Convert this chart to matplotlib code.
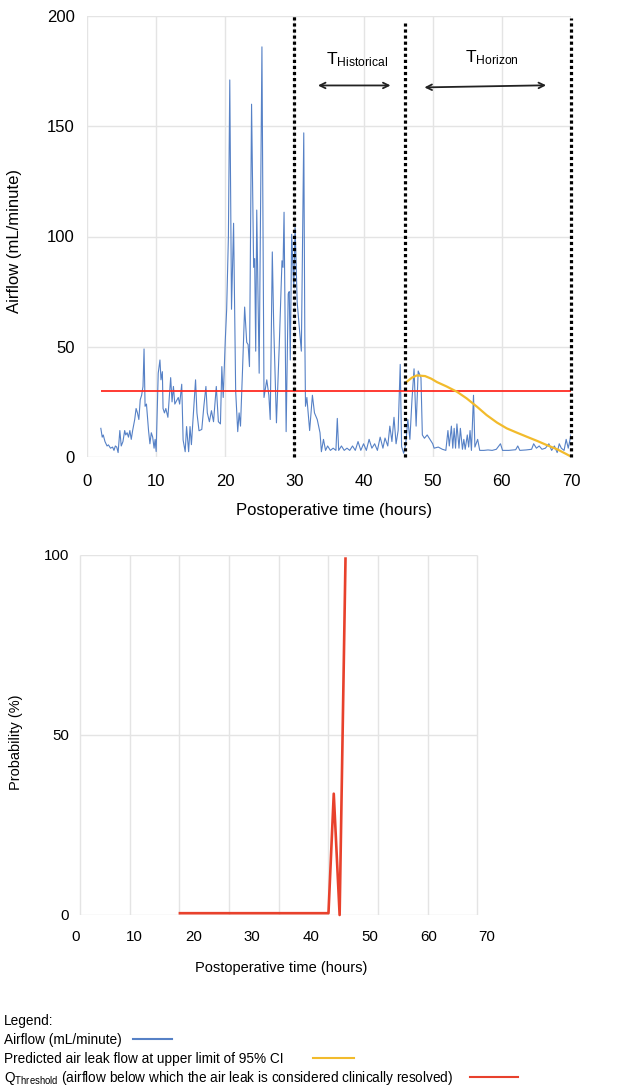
import numpy as np
import matplotlib
matplotlib.use("Agg")
import matplotlib.pyplot as plt
from matplotlib.lines import Line2D

plt.rcParams['font.family'] = ['Liberation Sans', 'DejaVu Sans']
plt.rcParams['mathtext.default'] = 'regular'

# ---- top chart: airflow (mL/minute) vs postoperative time (hours)
airflow_t = [2.0, 2.2, 2.35, 2.6, 2.9, 3.1, 3.4, 3.7, 3.9, 4.1, 4.3, 4.5, 4.75, 4.95, 5.2, 5.45, 5.6, 5.8,
             6.0, 6.2, 6.4, 6.6, 6.9, 7.1, 7.3, 7.5, 7.7, 7.9, 8.1, 8.25, 8.4, 8.6, 8.9, 9.1, 9.3, 9.5,
             9.7, 9.85, 10.0, 10.3, 10.55, 10.7, 10.9, 11.0, 11.2, 11.4, 11.7, 12.1, 12.3, 12.5, 12.7,
             13.2, 13.4, 13.7, 13.9, 14.2, 14.4, 14.7, 14.9, 15.1, 15.4, 15.7, 15.9, 16.2, 16.6, 16.9,
             17.2, 17.4, 17.7, 18.0, 18.3, 18.7, 19.0, 19.3, 19.5, 19.7, 20.0, 20.2, 20.45, 20.65, 20.9,
             21.2, 21.5, 21.8, 22.0, 22.2, 22.5, 22.8, 23.1, 23.3, 23.5, 23.8, 24.1, 24.25, 24.4, 24.55,
             24.9, 25.3, 25.6, 26.0, 26.3, 26.5, 26.8, 27.0, 27.4, 27.8, 28.2, 28.35, 28.5, 28.8, 29.1,
             29.25, 29.4, 29.6, 29.9, 30.1, 30.4, 30.8, 31.0, 31.35, 31.5, 31.6, 31.8, 32.2, 32.6, 32.9,
             33.3, 33.7, 33.9, 34.2, 34.5, 34.8, 35.2, 35.6, 36.0, 36.2, 36.4, 36.8, 37.2, 37.6, 38.0,
             38.4, 38.8, 39.2, 39.6, 40.0, 40.4, 40.8, 41.2, 41.6, 42.0, 42.4, 42.8, 43.1, 43.5, 43.8,
             44.1, 44.4, 44.7, 45.0, 45.3, 45.5, 45.8, 46.1, 46.4, 46.7, 47.0, 47.3, 47.6, 47.9, 48.3,
             48.5, 48.8, 49.2, 49.6, 50.0, 50.2, 50.8, 51.4, 51.9, 52.2, 52.4, 52.7, 52.9, 53.1, 53.3,
             53.5, 53.8, 54.0, 54.3, 54.5, 54.7, 55.0, 55.2, 55.4, 55.6, 55.9, 56.1, 56.5, 56.8, 57.4,
             58.0, 58.6, 59.2, 59.8, 60.1, 61.0, 62.0, 62.3, 62.6, 63.5, 64.3, 64.6, 65.0, 65.4, 65.8,
             66.3, 66.8, 67.2, 67.6, 68.0, 68.3, 68.6, 69.0, 69.3, 69.6, 70.0]
airflow_v = [13, 9, 10, 7, 5, 5.5, 4, 4.5, 3, 5, 4.5, 2, 12, 5, 7, 12, 10, 11,
             9, 12, 8, 12, 17, 22, 20, 17, 26, 28, 32, 49, 23, 24, 12, 6, 11, 9,
             4, 8, 2.5, 38, 44, 35, 38.7, 22, 20, 22, 18, 36, 25, 32, 24,
             27, 24, 33, 7.7, 2.4, 13.8, 2.4, 13.8, 5.6, 20, 35, 20, 11.9, 12.5, 23,
             32, 20, 16, 21, 16, 32, 16, 15, 41, 27, 53, 67, 100, 171, 67,
             106, 30, 11.5, 20, 14, 40, 68, 52, 51, 41, 160, 86, 90, 48, 112,
             38, 186, 27, 35, 28, 17, 93, 60, 15.5, 50, 89, 86, 111, 11.5, 74,
             75, 44, 101, 77, 104, 70, 55, 48, 147, 56, 23, 27, 12, 28, 20,
             17, 11, 2.4, 8, 3, 5, 3, 4, 3, 17.5, 3, 5, 3, 4, 3,
             5, 3, 7, 3, 6, 3, 8, 4, 6, 3, 9, 4, 8.6, 5, 14,
             7, 18, 6, 12, 42, 4.7, 1.7, 6, 17, 8, 26, 40, 14, 39, 36,
             10, 8.5, 10, 8, 6, 4, 4.5, 3.5, 3, 12, 5, 14, 4, 13, 4,
             15, 4, 13, 3.5, 8, 3.5, 10, 4.5, 12, 3, 28, 4.5, 8, 3, 3,
             3.2, 3, 3.5, 6, 3, 3, 3.3, 5, 3, 3.2, 3.5, 6, 4, 5, 3.5,
             4, 6, 3, 5, 2, 6, 4, 3, 8, 4, 10]

# predicted air leak flow at upper limit of 95% CI
pred_t = [46.2, 47.0, 47.7, 48.9, 49.8, 50.6, 52.0, 53.5, 54.9, 56.4, 57.8, 59.3, 60.7, 62.2,
          63.6, 65.1, 66.5, 68.0, 69.4, 70.0]
pred_v = [34, 36, 37, 36.7, 35.5, 34, 32, 29.6, 26.6, 22.8, 19, 15.6, 13, 11,
          9.2, 7.3, 5.4, 3.5, 1.2, 0.2]

q_threshold = 30
threshold_start = 2
windows = [30, 46, 70]
window_tops = [200, 197, 199]

# ---- bottom chart: probability (%)
prob_t = [17.7, 43.0, 43.9, 44.9, 45.9]
prob_v = [0.5, 0.5, 33.7, 0, 99]

W, H = 624, 1087
fig = plt.figure(figsize=(W / 100, H / 100), dpi=100)

def box(l, t, r, b):
    return [l / W, 1 - b / H, (r - l) / W, (b - t) / H]

grid_c = '#e4e4e4'
blue = '#5681c6'
yellow = '#f2bb2c'
red = '#ff2b22'

# top chart
ax = fig.add_axes(box(87, 16, 571, 457))
ax.set_xlim(0, 70)
ax.set_ylim(0, 200)
for s in ax.spines.values():
    s.set_visible(False)
ax.set_xticks(range(0, 71, 10))
ax.set_yticks(range(0, 201, 50))
ax.grid(True, color=grid_c, lw=1)
ax.set_axisbelow(True)
ax.tick_params(length=0, labelsize=12)
ax.tick_params(axis='x', pad=12)
ax.tick_params(axis='y', pad=9)
ax.plot(airflow_t, airflow_v, color=blue, lw=0.8, zorder=3)
ax.hlines(q_threshold, threshold_start, 70, color=red, lw=1.3, zorder=4)
ax.plot(pred_t, pred_v, color=yellow, lw=1.6, zorder=4)
for x, top in zip(windows, window_tops):
    ax.vlines(x, 0, top, color='black', lw=2.3, linestyles=(0, (1, 0.9)), zorder=5,
              clip_on=False)
ax.set_xlabel('Postoperative time (hours)', fontsize=12)
ax.xaxis.set_label_coords(0.51, -0.105)
ax.set_ylabel('Airflow (mL/minute)', fontsize=12)
ax.yaxis.set_label_coords(-0.134, 0.49)

ax.text(39.1, 180, r'T$_{Historical}$', fontsize=12.5, ha='center', va='center')
ax.text(58.6, 181, r'T$_{Horizon}$', fontsize=12.5, ha='center', va='center')
ax.annotate('', xy=(44.3, 168.5), xytext=(33, 168.5),
            arrowprops=dict(arrowstyle='<->', lw=1.3, color='#222222'))
ax.annotate('', xy=(66.8, 168.6), xytext=(48.4, 167.6),
            arrowprops=dict(arrowstyle='<->', lw=1.3, color='#222222'))

# bottom chart
bx = fig.add_axes(box(76, 555, 487, 915))
bx.set_xlim(0, 70)
bx.set_ylim(0, 100)
for s in bx.spines.values():
    s.set_visible(False)
bx.set_xticks(range(0, 71, 10))
bx.set_yticks([0, 50, 100])
bx.tick_params(length=0, labelsize=10.8)
bx.tick_params(axis='x', pad=11)
bx.tick_params(axis='y', pad=5)
g0, g1 = 0.68, 68.35
bx.vlines(np.linspace(g0, g1, 9), 0, 100, color=grid_c, lw=1, zorder=1)
bx.hlines([0, 50, 100], g0, g1, color=grid_c, lw=1, zorder=1)
bx.plot(prob_t, prob_v, color='#e8412c', lw=1.9, zorder=3, clip_on=False)
bx.set_xlabel('Postoperative time (hours)', fontsize=10.5, labelpad=12)
bx.set_ylabel('Probability (%)', fontsize=10.5)
bx.yaxis.set_label_coords(-0.128, 0.48)

# legend block
def ftext(x, y, s):
    fig.text(x / W, 1 - y / H, s, fontsize=9.8, ha='left', va='center')

def fline(x0, x1, y, c):
    fig.add_artist(Line2D([x0 / W, x1 / W], [1 - y / H, 1 - y / H], color=c, lw=1.5,
                          transform=fig.transFigure))

ftext(4, 1021, 'Legend:')
ftext(4, 1040, 'Airflow (mL/minute)')
fline(133, 172, 1039, blue)
ftext(4, 1059, 'Predicted air leak flow at upper limit of 95% CI')
fline(313, 354, 1058, yellow)
ftext(4, 1078, r'Q$_{Threshold}$ (airflow below which the air leak is considered clinically resolved)')
fline(470, 518, 1077, '#e8412c')

fig.savefig('out.png', dpi=100)
